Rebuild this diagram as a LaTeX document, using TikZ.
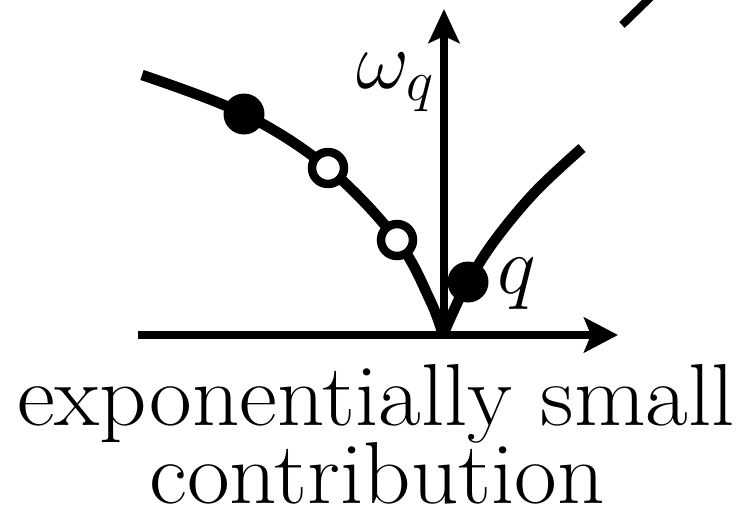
\RequirePackage{fix-cm}
\documentclass[tikz,border=0pt]{standalone}
\usepackage{graphicx}
\usetikzlibrary{arrows.meta}
\tikzset{
  curve/.style={line width=10.5pt, line join=round},
  axisx/.style={line width=8pt, -{Stealth[length=34pt, width=35pt, inset=7pt]}},
  axisy/.style={line width=7.5pt, -{Stealth[length=34pt, width=31pt, inset=7pt]}},
  fulldot/.style={circle, fill=black, draw=none, minimum size=41pt, inner sep=0pt},
  opendot/.style={circle, fill=white, draw=black, line width=8.5pt, minimum size=32pt, inner sep=0pt},
  bigtext/.style={font=\fontsize{88}{96}\selectfont, inner sep=0pt, anchor=base},
  mathlabel/.style={font=\fontsize{82}{90}\selectfont, inner sep=0pt}
}
\begin{document}
\begin{tikzpicture}[x=1pt, y=-1pt]
\useasboundingbox (0,0) rectangle (746,511);
\clip (0,0) rectangle (746,511);
% coordinates
\coordinate (O) at (443,335);
\coordinate (xend) at (138,335);
\coordinate (xtip) at (618,335);
\coordinate (ytip) at (444,9);
\coordinate (yfoot) at (444,335);
\coordinate (L1) at (430,300);
\coordinate (L2) at (397,240);
\coordinate (L3) at (328,168);
\coordinate (L4) at (244,114);
\coordinate (L5) at (142,75);
\coordinate (R1) at (454,310);
\coordinate (R2) at (468,282);
\coordinate (R3) at (495,240);
\coordinate (R4) at (535,192);
\coordinate (R5) at (582,148);
\coordinate (S1) at (622,25);
\coordinate (S2) at (660,-12);
% axes
\draw[axisx] (xend) -- (xtip);
\draw[axisy] (yfoot) -- (ytip);
% dispersion curves
\draw[curve] plot[smooth, tension=0.6] coordinates {(O) (L1) (L2) (L3) (L4) (L5)};
\draw[curve] plot[smooth, tension=0.6] coordinates {(O) (R1) (R2) (R3) (R4) (R5)};
% partial segment at top right
\draw[line width=8pt] (S1) -- (S2);
% dots
\node[fulldot] (d1) at (L4) {};
\node[opendot] (d2) at (L3) {};
\node[opendot] (d3) at (L2) {};
\node[fulldot] (d4) at (R2) {};
% labels
\node[mathlabel, anchor=base east] (wq) at (434,88) {$\omega_q$};
\node[mathlabel, anchor=base west] (ql) at (497,293) {$q$};
\node[bigtext] (t1) at (376,425) {\scalebox{1.055}[1]{exponentially small}};
\node[bigtext] (t2) at (377,503) {\scalebox{1.055}[1]{contribution}};
\end{tikzpicture}
\end{document}
